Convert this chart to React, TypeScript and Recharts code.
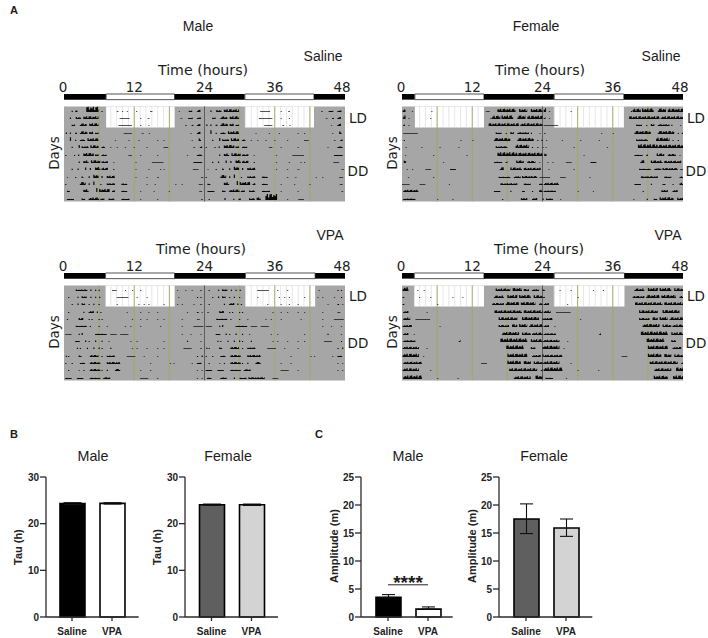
import React from 'react';
import {
  Bar, BarChart, Cell, ErrorBar, ReferenceArea, ReferenceLine, Scatter, ScatterChart, XAxis, YAxis,
} from 'recharts';

type Run = [number, number, number]; // start hour, end hour, height

const hourTicks = [0, 12, 24, 36, 48];
const zeitgeberLines = [6, 12, 18, 30, 36, 42];
const groups = ['Saline', 'VPA'];

// Activity bouts per recording day (double plotted: row n = day n + day n+1)
const maleSalineDays: Run[][] = [
  [[1.3, 1.5, 1], [1.9, 2.3, 1], [3.8, 5.9, 3.5], [6.4, 6.6, 1], [9, 9.3, .5], [9.9, 10, .5], [10.7, 10.9, .5], [12.3, 12.5, .5], [14.7, 15.1, .6], [19.6, 19.8, .5], [21.3, 21.9, 1], [22.7, 23.3, 1.5]],
  [[1, 1.2, 1], [2, 2.9, 1.4], [3.3, 5.9, 1.8], [9.5, 11.2, .5], [13, 13.2, .5], [14.3, 14.6, .5], [19.9, 20.2, .6], [21.2, 22, .8], [22.7, 23.4, 1]],
  [[1.3, 1.9, 1], [2.7, 3.9, 1.6], [4.3, 5.9, 1.8], [9.3, 11.6, .5], [13, 13.2, .5], [14.4, 14.6, .5], [20.7, 21, .5], [21.8, 22.1, .8], [22.7, 23.3, 1.3]],
  [[.3, .5, 1.2], [1, 1.2, 1], [1.9, 2.2, 1], [2.7, 4, 1.8], [4.3, 5, 1.5], [5.3, 5.9, 1], [10.2, 11.6, .5], [13.3, 13.6, .5], [14.5, 14.7, .5], [21.6, 21.8, .6], [22.7, 23.3, 1.5]],
  [[1, 1.2, 2.5], [1.9, 2.1, 1], [2.7, 3.6, 1], [4, 5.9, 1.8], [8.7, 8.9, .5], [11, 11.2, .5], [12.7, 12.9, .5], [15.9, 16.1, .5], [17, 17.2, .5], [21.8, 22, .5], [23, 23.4, 1.6]],
  [[1.3, 1.5, 1], [2.5, 2.7, 2], [3, 4.2, 1.2], [4.5, 5.9, 1.8], [6.4, 7, 1], [7.9, 8.1, .5], [9, 9.2, .5], [10.4, 10.6, .5], [11.9, 12.1, .5], [14.1, 14.3, .5], [17, 17.8, .5], [22.1, 22.4, .6], [23.2, 23.6, 1.2]],
  [[.2, .3, 1.4], [1.7, 1.9, 1], [2.4, 2.6, 1.5], [3.3, 5.1, 2], [5.3, 5.9, 1.2], [6.4, 7.3, 1], [11, 11.6, .5], [13, 13.2, .5], [15.9, 16.1, .5], [21, 21.2, .5], [22.7, 23.6, 1]],
  [[2.5, 2.7, 1], [3.3, 4.2, 1.6], [4.6, 6.2, 1.8], [6.4, 7.5, 1.2], [8.4, 8.6, .5], [12.2, 12.4, .5], [15, 17, .4], [22.1, 23.6, .7]],
  [[1.3, 1.5, 1], [2.3, 2.5, 1.2], [3.6, 3.8, 1.6], [4.4, 4.6, 2], [5.3, 6.2, 2], [6.4, 7.5, 1.5], [8.4, 8.6, .8], [12.2, 12.4, .5], [14.4, 14.6, .5], [16.4, 16.6, .5], [17, 17.2, .5], [22, 23, .5]],
  [[.5, .7, .6], [1.9, 2.1, .8], [3, 3.3, 1], [4.2, 4.4, 2.4], [5, 5.9, 2.2], [6.4, 6.6, 2], [7.3, 8.7, 1.5], [12.2, 12.4, .5], [14.1, 14.3, .5], [15.9, 16.2, .5], [23.4, 23.8, .6]],
  [[.2, .4, .8], [2.7, 3.7, 2], [4.2, 4.4, 2.4], [5, 5.2, 2.4], [6.2, 6.4, 1.2], [7.3, 8.7, 1.2], [9.8, 10.8, 1], [14.1, 14.3, .5], [15.5, 15.7, .5], [19, 19.2, .5], [20.1, 20.3, .5], [23, 23.7, .6]],
  [[.5, 1, .8], [3.3, 4.2, 1.8], [5.5, 5.7, 2.6], [6, 7.8, 2], [8.2, 8.7, 1.4], [9.8, 10.8, .8], [13, 13.2, .5], [15.3, 15.5, .5], [17.9, 18.1, .5], [23.1, 23.6, .5]],
  [[.5, 1.7, .7], [3, 3.6, 1], [4.2, 6, 1.6], [6.2, 6.9, 1.2], [7.6, 8.6, 1], [9.8, 11.2, .8], [13, 13.2, .5], [15.9, 16.1, .5], [23.4, 23.7, .5]],
  [[.7, .9, 1], [3.4, 3.6, 2], [4.9, 5.1, 1], [5.8, 6.2, 1], [7.6, 8.6, 1.2], [8.9, 9.6, 1.6], [10.4, 12.4, 4], [14.1, 14.3, .5], [16, 17, .5]],
];

const maleVpaDays: Run[][] = [
  [[2, 4, 1], [4.5, 4.7, 1], [5.3, 5.5, 1], [5.9, 6.1, 1], [8.2, 9, .6], [10.4, 10.6, .5], [11.6, 11.8, .5], [13, 13.2, .5], [19.3, 19.5, .5], [20.7, 20.9, .5], [21.8, 22, .6], [23.3, 23.5, .8]],
  [[.7, .9, .8], [2.3, 2.5, 1], [3, 3.9, 1.2], [4.5, 4.7, .8], [5.3, 5.5, 1], [6, 6.2, .8], [9, 11, .5], [12.4, 12.6, .5], [14.1, 14.3, .5], [19.5, 19.7, .5], [22.7, 22.9, .8], [23.3, 23.5, .8]],
  [[1.3, 1.5, .8], [2.3, 2.5, 1.2], [3, 3.6, 1.2], [4.2, 4.4, .8], [5, 5.2, .8], [5.9, 6.1, .8], [9, 9.2, .5], [12.7, 12.9, .5], [13.6, 13.8, .5], [14.4, 14.6, .5], [17, 17.2, .5], [19.3, 19.5, .5], [20.1, 20.3, .5], [22.1, 22.3, .5], [23.3, 23.5, .8]],
  [[.7, .9, .8], [3.3, 3.5, 1], [4.2, 5.1, 1.4], [5.6, 5.8, 1], [6.2, 6.4, .8], [10.7, 10.9, .5], [13, 13.2, .5], [14.4, 14.6, .5], [15.9, 16.1, .5], [21, 21.2, .6], [22.7, 23, .8], [23.5, 23.7, .6]],
  [[.5, .7, .7], [2.5, 3.3, 1.4], [4.2, 4.4, 1], [4.7, 4.9, 1], [5.9, 6.1, .8], [6.4, 6.6, .8], [11.6, 11.8, .5], [13, 13.2, .5], [14.1, 14.3, .5], [15.9, 16.1, .5], [17, 17.2, .5], [20.1, 20.3, .5], [22.7, 23.2, .6]],
  [[2, 3.9, .8], [4.4, 4.6, .8], [5.9, 6.1, .8], [7.3, 7.5, .6], [10.4, 10.6, .5], [11.3, 11.5, .5], [13, 13.2, .5], [16.4, 16.6, .5], [20.1, 20.3, .5], [22.1, 23.8, .6]],
  [[.2, 1.3, .6], [2.5, 2.7, .8], [3, 3.2, 1.4], [5.3, 7.3, .8], [7.9, 9, .5], [9.6, 11, .5], [20.1, 20.3, .5], [21.6, 21.8, .5], [23.3, 23.5, .6]],
  [[1.9, 2.7, .7], [3.6, 3.8, 1], [4.2, 4.4, 1.4], [5.3, 5.5, 1.2], [6.4, 6.6, 1.4], [7.6, 7.8, .6], [11.3, 11.5, .6], [12.4, 12.6, .5], [17, 17.2, .5], [21, 21.2, .8], [23.3, 23.5, .6]],
  [[2.2, 2.4, 1.6], [2.7, 2.9, .8], [3.9, 4.1, 1], [5, 5.2, 1], [5.9, 6.1, 1.2], [6.4, 6.6, .8], [7.9, 8.1, 1], [11.6, 11.8, .5], [12.4, 12.6, .5], [14.1, 14.3, .5], [15.9, 16.1, .5], [17, 17.2, .5], [20.4, 21.8, .5], [23.3, 23.5, .8]],
  [[.3, .5, 1], [.7, .9, .8], [2.5, 3, 1], [4.4, 5.9, 1.4], [6.4, 6.6, 1], [7.3, 8.7, 1], [10.7, 12.2, .6], [13.6, 13.8, .5], [15.9, 16.1, .5], [22.7, 22.9, 1.2], [23.5, 23.7, 1]],
  [[.2, .4, 1], [1.3, 1.5, .8], [2.7, 3.6, .8], [4.4, 6.2, 1.4], [7.3, 9.6, 1.4], [14.7, 14.9, .6], [18.1, 18.3, .5], [18.7, 18.9, .5], [21.8, 22, .6], [22.7, 23.5, .8]],
  [[.7, .9, .8], [2.5, 2.7, .6], [3.3, 3.5, .8], [4.4, 6.2, 1.4], [6.4, 6.6, 1], [7.3, 7.5, 1], [8.7, 9.6, 1.4], [13, 13.2, .5], [14.7, 14.9, .5], [22.7, 22.9, .6], [23.5, 23.7, .6]],
  [[.2, 1.3, .7], [2.2, 3.3, .7], [4.4, 6.2, .8], [6.7, 7.9, 1.2], [13, 14.4, .5], [15.9, 16.1, .5], [22.7, 22.9, .6], [23.5, 23.7, .6]],
  [[.4, 1.2, .8], [2.7, 3.8, 1], [5, 5.2, 1], [6, 7.2, .8], [7.5, 10.3, 1.1], [11.6, 12.6, .5]],
];

const femaleSaline: Run[][] = [
  [[.1, .6, 2], [1.7, 1.9, .6], [5, 5.2, .4], [14.3, 15, .6], [16.3, 19.4, 2.2], [20, 21.4, 2], [22, 24, 2]],
  [[.2, .6, 3], [1.1, 1.3, .5], [4.8, 5, .5], [15.1, 15.3, .8], [15.4, 16.8, 2.2], [17, 19, 2.4], [19.7, 21.1, 2.4], [21.4, 24, 2.2]],
  [[.2, .5, 1.5], [1.1, 1.3, .5], [14.8, 20, 1.8], [20.2, 24, 1.8]],
  [[.2, 2.7, .5], [16, 17, 1], [17.7, 17.9, .8], [18.5, 19.1, 1.4], [19.7, 21.7, 1.2], [22, 22.2, .8], [23.5, 23.7, .5]],
  [[.3, .5, .7], [10, 10.2, .5], [12, 12.2, .5], [15.7, 18.5, 2], [19.7, 22.5, 2], [23.1, 23.3, 1.2], [23.8, 24, 1]],
  [[.6, .8, .5], [3.3, 3.5, .4], [6.4, 6.6, .4], [9.6, 9.8, .4], [16, 18, 1.2], [19.4, 21.7, 2.2], [22.2, 22.4, 1], [23.1, 23.3, .8], [24, 24, .5]],
  [[.5, .7, .5], [5.3, 5.5, .4], [11, 11.2, .4], [16.3, 19.7, 2.5], [19.7, 24, 2.2]],
  [[.3, .7, 1.8], [7, 7.2, .4], [15.7, 17.1, .8], [17.7, 18, 1.4], [19.5, 20.8, 1.6], [21.4, 22.8, 1.4], [23.4, 23.6, .5]],
  [[.8, 1, .5], [1.7, 1.9, .5], [4, 5, .5], [8.2, 9.2, .7], [16.7, 17.4, 1.8], [18.5, 20.5, 1.6], [20.8, 23.7, 1.5]],
  [[1, 1.2, .4], [5.3, 5.5, .4], [16.5, 18.5, .8], [19.1, 20.3, 1.2], [20.5, 23.1, 1.3], [23.5, 24, .6]],
  [[0, 1.3, .5], [3, 4, .4], [8, 8.2, .4], [16.8, 19.7, 1.2], [20.8, 22, 1], [23.4, 24, 1]],
  [[.2, 2.8, 1.5], [15.7, 16.8, .7], [18.5, 18.7, .8], [20.5, 21, .7], [22.2, 22.4, 1.4], [23.4, 24, 1.5]],
  [[.2, 2.3, 1], [6, 6.2, .4], [8.6, 8.8, .4], [17.1, 17.3, .8], [20.3, 21.4, 1.4], [22.2, 23.1, 1.3], [24, 24, 1]],
  [[.6, 1.8, 1], [3, 3.2, .4], [15.5, 15.7, .5], [17.8, 18, 1], [19, 19.6, .8], [20, 22.4, 1.8], [23, 24, 1.5]],
];

const femaleVpa: Run[][] = [
  [[.1, 1.1, 2.5], [2.6, 2.8, .5], [3.7, 3.9, .5], [16, 18.5, 1.6], [18.9, 20.5, 2], [20.8, 21.7, 1.4], [22.2, 23.4, 1.2], [24, 24, 1]],
  [[.1, .4, 1], [2.9, 3.1, .5], [4.8, 5, .5], [8.6, 8.8, .5], [10.3, 10.5, .5], [15.7, 17.4, 1.6], [18, 19.7, 2], [20, 22, 2], [22.5, 24, 1.8]],
  [[.1, .4, 1], [6, 6.2, .4], [15.4, 17.4, 1.4], [17.7, 20, 2], [20.3, 22.8, 2], [23.4, 24, 1.4]],
  [[.2, 1.1, 1.4], [4.2, 4.4, .4], [15.8, 20.5, 1.8], [20.8, 24, 1.8]],
  [[.2, 1.4, 1.6], [2.3, 4.8, .5], [16.5, 19.7, 1.8], [20.5, 23.4, 2], [24, 24, 1]],
  [[.1, 1.7, 1.4], [6.4, 6.6, .5], [16.5, 18.3, 1.4], [18.8, 19.7, 1.8], [20, 21.4, 2], [21.7, 24, 1.8]],
  [[.2, 1.1, 1.4], [2, 2.2, .4], [17.1, 20, 2], [20.5, 22, 1.6], [22.2, 24, 1.6]],
  [[.2, 2.3, 1.2], [9.7, 10, 1.6], [16.8, 21.4, 2.4], [22, 24, 1.8]],
  [[.1, 2.9, 1.5], [4.2, 4.4, .4], [17.8, 20.8, 2.4], [22, 22.8, 1.4], [24, 24, 1.2]],
  [[.1, 2.9, 2.2], [3.6, 3.8, .5], [18, 21.4, 2.2], [22.2, 23.7, 1.4], [24, 24, 1.6]],
  [[.2, 3.4, 1.5], [13.5, 14.5, .5], [18, 20.3, 2.2], [20.8, 22, 2], [22.5, 24, 1.6]],
  [[.1, 2.9, 1.8], [4.8, 5, .5], [18.3, 23.1, 1.8], [23.7, 24, 1.4]],
  [[.2, 3.4, 2.4], [6, 6.2, .6], [9.5, 9.7, .5], [19.1, 22, 1.8], [22.8, 24, 2.4]],
  [[.5, 1.8, .8], [4, 4.2, .5], [19, 21.4, 2.2], [22.3, 24, 2.4]],
];

const tauMale = [24.3, 24.35];
const tauMaleErr = [0.2, 0.15];
const tauFemale = [24.05, 24.05];
const tauFemaleErr = [0.15, 0.15];
const ampMale = [3.5, 1.4];
const ampMaleErr: [number, number][] = [[0, 0.5], [0, 0.4]];
const ampFemale = [17.5, 15.9];
const ampFemaleErr: [number, number][] = [[2.6, 2.7], [1.5, 1.6]];
const tauTicks = [0, 10, 20, 30];
const ampTicks = [0, 5, 10, 15, 20, 25];

const ROW_TOP = -2.41;
const ROW_BOTTOM = 12.23;
const PANEL_TOP = -0.72;
const LD_BOTTOM = 2.14;
const PX_PER_HOUR = 281 / 48;
const arial = '"Liberation Sans", Arial, sans-serif';
const dejavu = '"DejaVu Sans", Verdana, sans-serif';
const combPattern = [1, 0.5, 0.85, 0.65, 1, 0.4, 0.9];

// one activity bout drawn as a little comb of counts
const BoutShape = (props: any) => {
  const { cx, cy, payload } = props;
  const w = Math.max(payload.span * PX_PER_HOUR, 1.2);
  const base = Math.round(cy);
  let d = '';
  let k = Math.round(payload.x * 7);
  for (let px = 0; px < w; px += 1.3, k++) {
    const h = Math.max(payload.h * 1.5 * combPattern[k % combPattern.length], 1);
    const col = Math.min(1.3, w - px);
    d += `M${cx + px} ${base}h${col}v${-h}h${-col}z`;
  }
  return <path d={d} fill="#0a0a0a" fillOpacity={payload.h < 0.7 ? 0.7 : 1} />;
};

const Txt = ({ x, y, size = 14, font = arial, bold = false, rotate = false, children }: any) => (
  <div
    style={{
      position: 'absolute', left: x, top: y, fontFamily: font, fontSize: size, fontWeight: bold ? 700 : 400,
      color: '#1c1c1c', whiteSpace: 'nowrap', lineHeight: 1,
      transform: `translate(-50%, -50%)${rotate ? ' rotate(-90deg)' : ''}`,
    }}
  >
    {children}
  </div>
);

const HourTick = (props: any) => {
  const { x, y, payload } = props;
  const shift = payload.value === 48 ? -3 : payload.value === 0 ? -1 : 0;
  return (
    <text x={x + shift} y={y} textAnchor="middle" fontFamily={dejavu} fontSize={13.5} fill="#222">
      {payload.value}
    </text>
  );
};

interface ActogramProps {
  left: number;
  top: number;
  days: Run[][];
  lights: [number, number][];
}

// plot area starts at left/top: the phase bar sits at the top of it, then the gap, then the rows
const Actogram = ({ left, top, days, lights }: ActogramProps) => {
  const bouts: { x: number; y: number; span: number; h: number }[] = [];
  for (let row = 0; row < 13; row++) {
    days[row].forEach(([a, b, h]) => bouts.push({ x: a, y: row, span: b - a, h }));
    days[row + 1].forEach(([a, b, h]) => bouts.push({ x: a + 24, y: row, span: b - a, h }));
  }
  const hourLines: number[] = [];
  lights.forEach(([a, b]) => {
    for (let h = Math.ceil(a); h < b; h++) hourLines.push(h);
  });
  const edges = [0, ...lights.flat(), 48];
  return (
    <div style={{ position: 'absolute', left: left - 14, top: top - 20 }}>
      <ScatterChart width={309} height={129} margin={{ top: 0, right: 14, bottom: 1.6, left: 14 }}>
        <XAxis
          xAxisId={0}
          type="number"
          dataKey="x"
          orientation="top"
          domain={[0, 48]}
          ticks={hourTicks}
          axisLine={false}
          tickLine={false}
          height={20}
          tick={HourTick}
          tickSize={0}
          tickMargin={2}
          allowDataOverflow
        />
        <YAxis yAxisId={0} type="number" dataKey="y" hide reversed domain={[ROW_TOP, ROW_BOTTOM]} allowDataOverflow />
        <ReferenceArea x1={0} x2={48} y1={PANEL_TOP} y2={ROW_BOTTOM} fill="#a6a6a6" fillOpacity={1} stroke="none" />
        {lights.map(([a, b]) => (
          <ReferenceArea key={`w${a}`} x1={a} x2={b} y1={PANEL_TOP} y2={LD_BOTTOM} fill="#fff" fillOpacity={1} stroke="none" />
        ))}
        {edges.slice(0, -1).map((a, i) => (
          <ReferenceArea
            key={`p${a}`}
            x1={a}
            x2={edges[i + 1]}
            y1={ROW_TOP}
            y2={-1.64}
            fill={i % 2 === 0 ? '#000' : '#fff'}
            fillOpacity={1}
            stroke={i % 2 === 0 ? 'none' : '#555'}
            strokeWidth={1}
          />
        ))}
        {hourLines.map((h) => (
          <ReferenceLine
            key={`h${h}`}
            segment={[{ x: h, y: PANEL_TOP }, { x: h, y: LD_BOTTOM }]}
            stroke="#e0e0e0"
            strokeWidth={0.8}
          />
        ))}
        {zeitgeberLines.map((h) => (
          <ReferenceLine
            key={`g${h}`}
            segment={[{ x: h, y: PANEL_TOP }, { x: h, y: ROW_BOTTOM }]}
            stroke="#a3a85c"
            strokeWidth={0.9}
          />
        ))}
        <ReferenceLine segment={[{ x: 24, y: PANEL_TOP }, { x: 24, y: ROW_BOTTOM }]} stroke="#555" strokeWidth={0.9} />
        <Scatter data={bouts} shape={BoutShape} isAnimationActive={false} />
      </ScatterChart>
    </div>
  );
};

interface SummaryProps {
  axisX: number;
  axisEnd: number;
  barX: number; // left padding of the first band
  values: number[];
  errors: (number | [number, number])[];
  fills: string[];
  ticks: number[];
  yLabel: string;
  capWidth: number;
  sig?: boolean;
}

const Summary = ({ axisX, axisEnd, barX, values, errors, fills, ticks, yLabel, capWidth, sig }: SummaryProps) => {
  const data = groups.map((group, i) => ({ group, value: values[i], err: errors[i] }));
  const plotW = axisEnd - axisX;
  const isTau = yLabel === 'Tau (h)';
  return (
    <div style={{ position: 'absolute', left: axisX - 36, top: 467 }}>
      <BarChart
        width={plotW + 36 + 4}
        height={170}
        data={data}
        margin={{ top: 10, right: 4, bottom: 0, left: 0 }}
        barCategoryGap={14.5}
      >
        <XAxis
          dataKey="group"
          interval={0}
          height={20}
          axisLine={{ stroke: '#2b2b2b', strokeWidth: 1.3 }}
          tickLine={{ stroke: '#2b2b2b', strokeWidth: 1.3 }}
          tickSize={4}
          tickMargin={7}
          padding={{ left: barX, right: plotW - barX - 80 }}
          tick={{ fontFamily: arial, fontSize: 10, fontWeight: 700, fill: '#222' }}
        />
        <YAxis
          width={36}
          domain={[0, ticks[ticks.length - 1]]}
          ticks={ticks}
          interval={0}
          axisLine={{ stroke: '#2b2b2b', strokeWidth: 1.3 }}
          tickLine={{ stroke: '#2b2b2b', strokeWidth: 1.3 }}
          tickSize={6}
          tickMargin={1}
          tick={{ fontFamily: arial, fontSize: 10, fontWeight: 700, fill: '#222' }}
          label={{ value: yLabel, angle: -90, position: 'insideLeft', dx: isTau ? 3 : 4, dy: isTau ? 18 : 36, fontFamily: arial, fontSize: 11, fontWeight: 700, fill: '#222' }}
        />
        <Bar dataKey="value" barSize={25} stroke="#000" strokeWidth={1.6} isAnimationActive={false}>
          {data.map((d, i) => (
            <Cell key={d.group} fill={fills[i]} />
          ))}
          <ErrorBar dataKey="err" width={capWidth} stroke="#111" strokeWidth={1.1} direction="y" />
        </Bar>
        {sig && (
          <ReferenceLine segment={[{ x: groups[0], y: 5.75 }, { x: groups[1], y: 5.75 }]} stroke="#222" strokeWidth={1} />
        )}
      </BarChart>
    </div>
  );
};

export default function App() {
  return (
    <div style={{ position: 'absolute', left: 0, top: 0, width: 708, height: 638, background: '#fff', overflow: 'hidden' }}>
      <Txt x={14} y={10} size={11} bold>A</Txt>
      <Txt x={198} y={26}>Male</Txt>
      <Txt x={536} y={26}>Female</Txt>

      <Txt x={323} y={56}>Saline</Txt>
      <Txt x={203} y={70} size={14.2} font={dejavu}>Time (hours)</Txt>
      <Txt x={661} y={56}>Saline</Txt>
      <Txt x={540} y={70} size={14.2} font={dejavu}>Time (hours)</Txt>
      <Txt x={330} y={235}>VPA</Txt>
      <Txt x={201} y={249} size={14.2} font={dejavu}>Time (hours)</Txt>
      <Txt x={668} y={235}>VPA</Txt>
      <Txt x={539} y={249} size={14.2} font={dejavu}>Time (hours)</Txt>

      <Actogram left={63.6} top={94.3} days={maleSalineDays} lights={[[7.2, 18.9], [30.9, 42.7]]} />
      <Actogram left={401.8} top={94.3} days={femaleSaline} lights={[[2.2, 14], [26, 37.9]]} />
      <Actogram left={63.6} top={273.3} days={maleVpaDays} lights={[[7.1, 18.9], [31, 42.9]]} />
      <Actogram left={401.8} top={273.3} days={femaleVpa} lights={[[2.1, 14], [26, 38]]} />

      <Txt x={55} y={153} size={13.5} font={dejavu} rotate>Days</Txt>
      <Txt x={393} y={153} size={13.5} font={dejavu} rotate>Days</Txt>
      <Txt x={55} y={332} size={13.5} font={dejavu} rotate>Days</Txt>
      <Txt x={393} y={332} size={13.5} font={dejavu} rotate>Days</Txt>

      {[[358, 119], [358, 172], [696, 119], [696, 172], [358, 297], [358, 344], [696, 297], [696, 344]].map(([x, y], i) => (
        <Txt key={i} x={x} y={y} size={13.5} font={dejavu}>{i % 2 === 0 ? 'LD' : 'DD'}</Txt>
      ))}

      <Txt x={14} y={434} size={11} bold>B</Txt>
      <Txt x={319} y={434} size={11} bold>C</Txt>
      <Txt x={93} y={456} size={14.3}>Male</Txt>
      <Txt x={228} y={456} size={14.3}>Female</Txt>
      <Txt x={408} y={456} size={14.3}>Male</Txt>
      <Txt x={544} y={456} size={14.3}>Female</Txt>
      <Txt x={408} y={582} size={19} bold>****</Txt>

      <Summary axisX={46} axisEnd={138.7} barX={6} values={tauMale} errors={tauMaleErr} fills={['#000', '#fff']} ticks={tauTicks} yLabel="Tau (h)" capWidth={9} />
      <Summary axisX={185} axisEnd={278} barX={6.5} values={tauFemale} errors={tauFemaleErr} fills={['#5f5f5f', '#d3d3d3']} ticks={tauTicks} yLabel="Tau (h)" capWidth={9} />
      <Summary axisX={361.3} axisEnd={453} barX={7} values={ampMale} errors={ampMaleErr} fills={['#000', '#fff']} ticks={ampTicks} yLabel="Amplitude (m)" capWidth={6.5} sig />
      <Summary axisX={499} axisEnd={592.3} barX={7} values={ampFemale} errors={ampFemaleErr} fills={['#5f5f5f', '#d3d3d3']} ticks={ampTicks} yLabel="Amplitude (m)" capWidth={6.5} />
    </div>
  );
}
